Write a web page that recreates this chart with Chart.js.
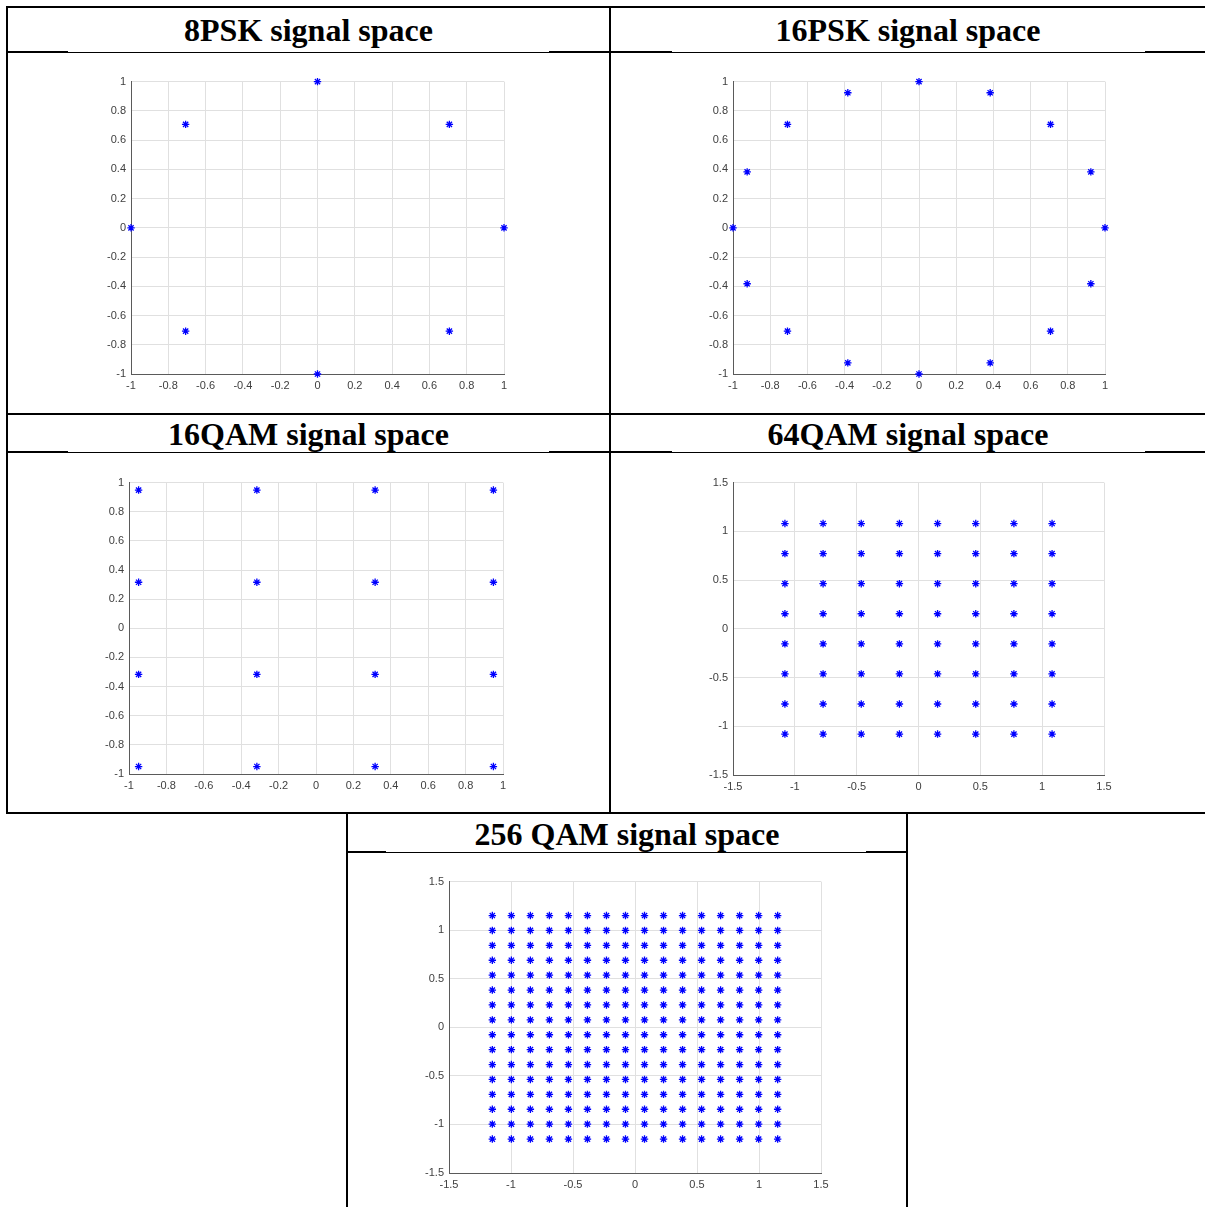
<!DOCTYPE html>
<html>
<head>
<meta charset="utf-8">
<script src="https://cdn.jsdelivr.net/npm/chart.js@4.4.0/dist/chart.umd.min.js"></script>
<style>
  body { margin: 0; background: #fff; width: 1205px; height: 1207px; overflow: hidden; position: relative; }
  .ln { position: absolute; background: #000; }
  .title { position: absolute; text-align: center; font-family: 'Liberation Serif', 'Times New Roman', serif;
           font-weight: bold; font-size: 32px; color: #000; line-height: 1; }
  canvas { position: absolute; }
</style>
</head>
<body>
<!-- table rules -->
<div class="ln" style="left:6px;top:6px;width:1199px;height:2px"></div>
<div class="ln" style="left:6px;top:6px;width:2px;height:808px"></div>
<div class="ln" style="left:609px;top:6px;width:2px;height:808px"></div>

<div class="ln" style="left:7px;top:52px;width:1198px;height:1px"></div>
<div class="ln" style="left:7px;top:51px;width:61px;height:2px"></div>
<div class="ln" style="left:549px;top:51px;width:123px;height:2px"></div>
<div class="ln" style="left:1145px;top:51px;width:60px;height:2px"></div>

<div class="ln" style="left:6px;top:413px;width:1199px;height:2px"></div>

<div class="ln" style="left:7px;top:452px;width:1198px;height:1px"></div>
<div class="ln" style="left:7px;top:451px;width:61px;height:2px"></div>
<div class="ln" style="left:549px;top:451px;width:123px;height:2px"></div>
<div class="ln" style="left:1145px;top:451px;width:60px;height:2px"></div>

<div class="ln" style="left:6px;top:812px;width:1199px;height:2px"></div>
<div class="ln" style="left:346px;top:812px;width:2px;height:395px"></div>
<div class="ln" style="left:906px;top:812px;width:2px;height:395px"></div>
<div class="ln" style="left:347px;top:852px;width:560px;height:1px"></div>
<div class="ln" style="left:347px;top:851px;width:39px;height:2px"></div>
<div class="ln" style="left:866px;top:851px;width:41px;height:2px"></div>

<div class="title" style="left:8px;top:14px;width:601px">8PSK signal space</div>
<div class="title" style="left:611px;top:14px;width:594px">16PSK signal space</div>
<div class="title" style="left:8px;top:418px;width:601px">16QAM signal space</div>
<div class="title" style="left:611px;top:418px;width:594px">64QAM signal space</div>
<div class="title" style="left:348px;top:818px;width:558px">256 QAM signal space</div>

<canvas id="psk8"></canvas>
<canvas id="psk16"></canvas>
<canvas id="qam16"></canvas>
<canvas id="qam64"></canvas>
<canvas id="qam256"></canvas>

<script>
// 8PSK constellation (in-phase / quadrature)
const psk8I = [1, 0.7071, 0, -0.7071, -1, -0.7071, 0, 0.7071];
const psk8Q = [0, 0.7071, 1, 0.7071, 0, -0.7071, -1, -0.7071];

// 16PSK constellation
const psk16I = [1, 0.9239, 0.7071, 0.3827, 0, -0.3827, -0.7071, -0.9239,
                -1, -0.9239, -0.7071, -0.3827, 0, 0.3827, 0.7071, 0.9239];
const psk16Q = [0, 0.3827, 0.7071, 0.9239, 1, 0.9239, 0.7071, 0.3827,
                0, -0.3827, -0.7071, -0.9239, -1, -0.9239, -0.7071, -0.3827];

// QAM amplitude levels per axis (unit average power)
const qam16Levels = [-0.9487, -0.3162, 0.3162, 0.9487];
const qam64Levels = [-1.0801, -0.7715, -0.4629, -0.1543, 0.1543, 0.4629, 0.7715, 1.0801];
const qam256Levels = [-1.1505, -0.9971, -0.8437, -0.6903, -0.5369, -0.3835, -0.2301, -0.0767,
                      0.0767, 0.2301, 0.3835, 0.5369, 0.6903, 0.8437, 0.9971, 1.1505];

// axis ticks
const pskTicks = [-1, -0.8, -0.6, -0.4, -0.2, 0, 0.2, 0.4, 0.6, 0.8, 1];
const qamWideTicks = [-1.5, -1, -0.5, 0, 0.5, 1, 1.5];

function pairs(xs, ys) {
  return xs.map((x, i) => ({ x: x, y: ys[i] }));
}

function grid(levels) {
  const pts = [];
  levels.forEach(q => levels.forEach(i => pts.push({ x: i, y: q })));
  return pts;
}

const PAD_L = 45, PAD_R = 20, PAD_T = 10, PAD_B = 25;

function axis(ticks, pos) {
  return {
    type: 'linear',
    position: pos,
    min: ticks[0],
    max: ticks[ticks.length - 1],
    afterFit: function(scale) {
      if (pos === 'left') scale.width = PAD_L; else scale.height = PAD_B;
    },
    afterBuildTicks: function(scale) {
      scale.ticks = ticks.map(v => ({ value: v }));
    },
    ticks: {
      autoSkip: false,
      maxRotation: 0,
      padding: pos === 'left' ? 5 : 5,
      color: '#404040',
      font: { family: 'Liberation Sans, Arial, sans-serif', size: 11 },
      callback: v => String(+v.toFixed(2)),
    },
    grid: {
      color: '#e0e0e0',
      drawTicks: false,
    },
    border: {
      color: '#5a5a5a',
      width: 1,
    },
  };
}

// left/top = pixel position of the plot area, w/h = its size
function plot(id, left, top, w, h, ticks, points) {
  const cv = document.getElementById(id);
  cv.width = w + PAD_L + PAD_R;
  cv.height = h + PAD_T + PAD_B;
  cv.style.left = (left - PAD_L) + 'px';
  cv.style.top = (top - PAD_T) + 'px';

  new Chart(cv, {
    type: 'scatter',
    data: {
      datasets: [{
        data: points,
        pointStyle: 'star',
        pointRadius: 3.7,
        borderColor: '#0000ff',
        backgroundColor: '#0000ff',
        borderWidth: 1.3,
        clip: false,
      }]
    },
    options: {
      responsive: false,
      animation: false,
      events: [],
      layout: { padding: { top: PAD_T, right: PAD_R, left: 0, bottom: 0 } },
      plugins: {
        legend: { display: false },
        tooltip: { enabled: false },
      },
      scales: {
        x: axis(ticks, 'bottom'),
        y: axis(ticks, 'left'),
      }
    }
  });
}

plot('psk8', 131, 80, 373, 294, pskTicks, pairs(psk8I, psk8Q));
plot('psk16', 733, 80, 372, 294, pskTicks, pairs(psk16I, psk16Q));
plot('qam16', 129, 481, 374, 293, pskTicks, grid(qam16Levels));
plot('qam64', 733, 481, 371, 294, qamWideTicks, grid(qam64Levels));
plot('qam256', 449, 880, 372, 293, qamWideTicks, grid(qam256Levels));
</script>
</body>
</html>
